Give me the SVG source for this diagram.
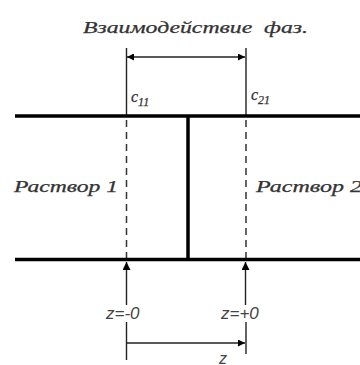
<svg xmlns="http://www.w3.org/2000/svg" width="360" height="365" viewBox="0 0 360 365">
<defs>
<marker id="ah" viewBox="0 0 10 10" refX="10" refY="5" markerWidth="11" markerHeight="7" markerUnits="userSpaceOnUse" orient="auto-start-reverse"><path d="M0,0 L10,5 L0,10 Z" fill="#000"/></marker>
<marker id="ahb" viewBox="0 0 10 10" refX="10" refY="5" markerWidth="12" markerHeight="8" markerUnits="userSpaceOnUse" orient="auto-start-reverse"><path d="M0,0 L10,5 L0,10 Z" fill="#000"/></marker>
</defs>
<style>
.thin{stroke:#222;stroke-width:1.4;fill:none}
.thick{stroke:#000;stroke-width:3.5;fill:none}
.dash{stroke:#333;stroke-width:1.5;stroke-dasharray:7,5;fill:none}
.it{font-family:"Liberation Serif",serif;font-style:italic;fill:#333;stroke:#333;stroke-width:0.25}
.sans{font-family:"Liberation Sans",sans-serif;font-style:italic;fill:#444}
</style>
<rect width="360" height="365" fill="#fff"/>
<g id="title"><text class="it" x="83" y="33" font-size="16" textLength="225" lengthAdjust="spacingAndGlyphs" xml:space="preserve">Взаимодействие  фаз.</text></g>
<g id="connectors">
<line class="thin" x1="126.5" y1="48" x2="126.5" y2="116"/>
<line class="thin" x1="246" y1="48" x2="246" y2="116"/>
<line class="thin" x1="127" y1="57" x2="245" y2="57" marker-start="url(#ah)" marker-end="url(#ah)"/>
<line class="dash" x1="126.5" y1="120" x2="126.5" y2="258"/>
<line class="dash" x1="246" y1="120" x2="246" y2="258"/>
<line class="thin" x1="126.5" y1="305" x2="126.5" y2="262" marker-end="url(#ahb)"/>
<line class="thin" x1="245.5" y1="305" x2="245.5" y2="262" marker-end="url(#ahb)"/>
<line class="thin" x1="126.5" y1="322" x2="126.5" y2="360"/>
<line class="thin" x1="246" y1="322" x2="246" y2="354"/>
<line class="thin" x1="127" y1="343" x2="245" y2="343" marker-end="url(#ah)"/>
</g>
<g id="walls">
<line class="thick" x1="15" y1="116" x2="360" y2="116"/>
<line class="thick" x1="15" y1="259.5" x2="360" y2="259.5"/>
<line class="thick" x1="188" y1="116" x2="188" y2="259.5"/>
</g>
<g id="c11"><text class="it" x="131" y="102" font-size="16">c<tspan font-size="12" dy="4">11</tspan></text></g>
<g id="c21"><text class="it" x="251" y="100" font-size="16">c<tspan font-size="12" dy="4">21</tspan></text></g>
<g id="r1"><text class="it" x="14" y="192" font-size="16" textLength="104" lengthAdjust="spacingAndGlyphs">Раствор 1</text></g>
<g id="r2"><text class="it" x="256" y="192" font-size="16" textLength="106" lengthAdjust="spacingAndGlyphs">Раствор 2</text></g>
<g id="zm"><text class="sans" x="106" y="319" font-size="17">z=-0</text></g>
<g id="zp"><text class="sans" x="221" y="319" font-size="17">z=+0</text></g>
<g id="z"><text class="sans" x="219" y="364" font-size="16">z</text></g>
</svg>
